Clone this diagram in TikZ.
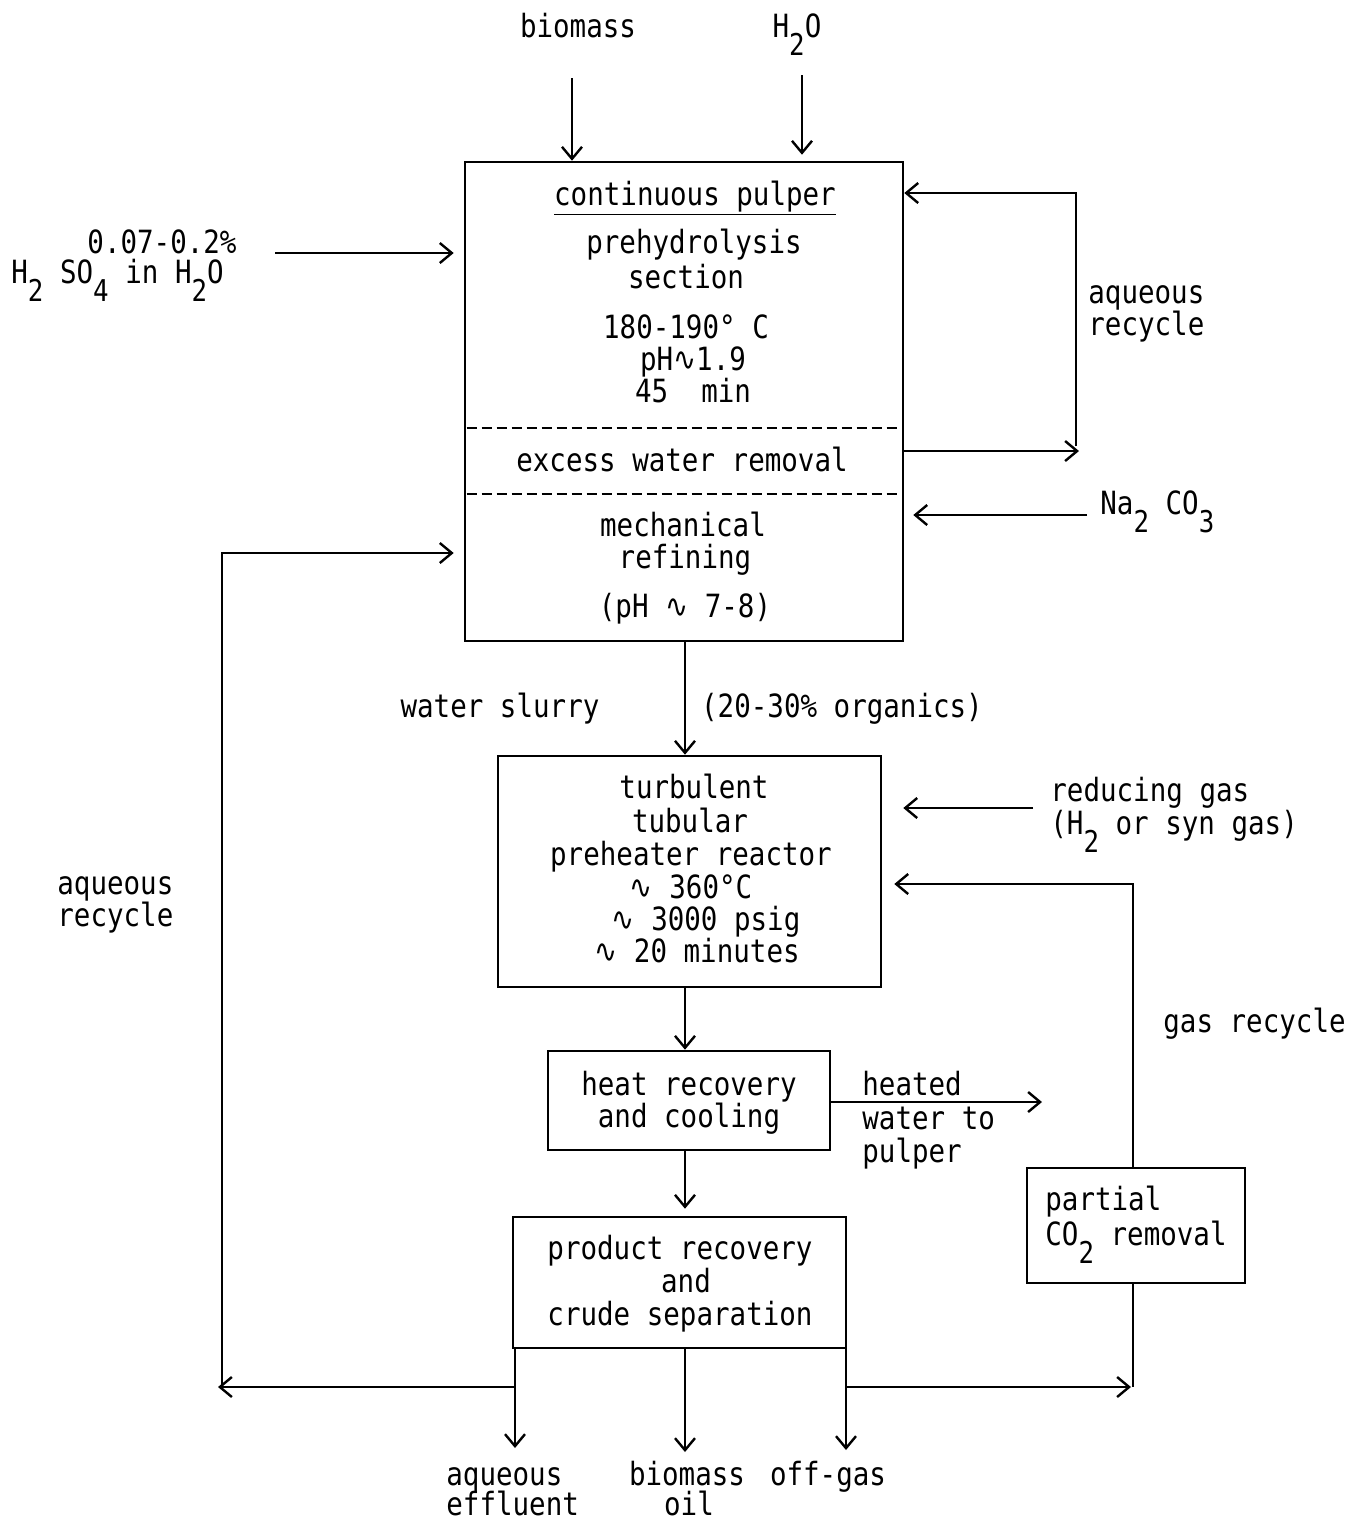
\documentclass[tikz,border=0pt]{standalone}
\usepackage{fontspec}
\setmonofont{DejaVu Sans Mono}[FakeStretch=0.86]
\newfontfamily\symf{DejaVu Sans}[FakeStretch=0.86]
\usetikzlibrary{arrows.meta,fit}
\newcommand\dn[1]{\raisebox{-1.05ex}{\fontsize{15pt}{15pt}\selectfont #1}}
\newcommand\sw{{\symf ∿}}
\begin{document}
\begin{tikzpicture}[x=0.5pt,y=-0.5pt,
  every node/.style={font=\ttfamily\fontsize{16pt}{16.5pt}\selectfont, inner sep=0pt},
  box/.style={draw, line width=1.3pt, inner sep=0pt},
  arr/.style={line width=1.2pt, -{Straight Barb[length=6pt,width=10pt,line width=1.2pt]}},
  ln/.style={line width=1.2pt},
  txt/.style={anchor=base},
  txtl/.style={anchor=base west},
  dsh/.style={line width=1.2pt, dash pattern=on 5pt off 2.5pt}]
\useasboundingbox (0,0) rectangle (1347,1523);

% boxes
\node[box, fit={(465,162) (903,641)}] (pulper) {};
\node[box, fit={(498,756) (881,987)}] (reactor) {};
\node[box, fit={(548,1051) (830,1150)}] (heat) {};
\node[box, fit={(513,1217) (846,1348)}] (prod) {};
\node[box, fit={(1027,1168) (1245,1283)}] (co2) {};

% top inputs
\node[txt] (biomass) at (578,37) {biomass};
\node[txt] (water) at (797,37) {H\dn{2}O};
\coordinate (bmtop) at (572,78);
\coordinate (wtop) at (802,75);
\draw[arr] (bmtop) -- (bmtop |- pulper.north);
\draw[arr] (wtop) -- ([yshift=3pt]wtop |- pulper.north);

% acid input
\node[txt] (acid1) at (162,253) {0.07-0.2\%};
\node[txtl] (acid2) at (11,283) {H\dn{2} SO\dn{4} in H\dn{2}O};
\coordinate (acidst) at (275,253);
\draw[arr] (acidst) -- ([xshift=-5pt]acidst -| pulper.west);

% pulper texts
\node[txt] (p1) at (695,205) {\underline{continuous pulper}};
\node[txt] (p2) at (694,253) {prehydrolysis};
\node[txt] (p3) at (686,288) {section};
\node[txt] (p4) at (686,338) {180-190° C};
\node[txt] (p5) at (693,370) {pH\sw1.9};
\node[txt] (p6) at (693,402) {45\ \ min};
\node[txt] (p7) at (682,471) {excess water removal};
\node[txt] (p8) at (683,536) {mechanical};
\node[txt] (p9) at (685,568) {refining};
\node[txt] (p10) at (685,617) {(pH \sw\ 7-8)};
\draw[dsh] ([xshift=1.5pt]pulper.west |- 0,428) -- ([xshift=-1.5pt]pulper.east |- 0,428);
\draw[dsh] ([xshift=1.5pt]pulper.west |- 0,494) -- ([xshift=-1.5pt]pulper.east |- 0,494);

% aqueous recycle (top right)
\coordinate (ewr) at (903,451);
\coordinate (rtop) at (1076,193);
\draw[arr] (ewr) -- (1079,451);
\draw[arr] (1076,446) -- (rtop) -- (rtop -| pulper.east);
\node[txtl] (aqr1) at (1088,303) {aqueous};
\node[txtl] (aqr2) at (1088,335) {recycle};

% Na2CO3
\node[txtl] (na) at (1100,514) {Na\dn{2} CO\dn{3}};
\coordinate (nast) at (1087,515);
\draw[arr] (nast) -- ([xshift=4.5pt]nast -| pulper.east);

% pulper -> reactor
\coordinate (pout) at (685,641);
\draw[arr] (pout) -- (pout |- reactor.north);
\node[txt] (ws) at (500,717) {water slurry};
\node[txt] (org) at (842,717) {(20-30\% organics)};

% reactor texts
\node[txt] (r1) at (694,798) {turbulent};
\node[txt] (r2) at (690,832) {tubular};
\node[txt] (r3) at (691,865) {preheater reactor};
\node[txt] (r4) at (691,898) {\sw\ 360°C};
\node[txt] (r5) at (706,930) {\sw\ 3000 psig};
\node[txt] (r6) at (697,962) {\sw\ 20 minutes};

% reducing gas
\node[txtl] (rg1) at (1050,801) {reducing gas};
\node[txtl] (rg2) at (1050,834) {(H\dn{2} or syn gas)};
\coordinate (rgst) at (1033,808);
\draw[arr] (rgst) -- ([xshift=10.5pt]rgst -| reactor.east);

% gas recycle
\coordinate (gtop) at (1133,884);
\draw[arr] (1133,1168) -- (gtop) -- ([xshift=6pt]gtop -| reactor.east);
\node[txtl] (gr) at (1163,1032) {gas recycle};

% reactor -> heat
\coordinate (rout) at (685,987);
\draw[arr] (rout) -- (rout |- heat.north);
\node[txt] (h1) at (689,1095) {heat recovery};
\node[txt] (h2) at (689,1127) {and cooling};

% heated water
\coordinate (hw) at (830,1102);
\draw[arr] (hw) -- (1042,1102);
\node[txtl] (hw1) at (862,1095) {heated};
\node[txtl] (hw2) at (862,1129) {water to};
\node[txtl] (hw3) at (862,1162) {pulper};

% heat -> product
\coordinate (hout) at (685,1150);
\draw[arr] (hout) -- ([yshift=3.5pt]hout |- prod.north);
\node[txt] (pr1) at (680,1259) {product recovery};
\node[txt] (pr2) at (686,1292) {and};
\node[txt] (pr3) at (680,1325) {crude separation};

% CO2 removal
\node[txtl] (c1) at (1045,1210) {partial};
\node[txtl] (c2) at (1045,1245) {CO\dn{2} removal};

% bottom lines
\coordinate (lj) at (515,1387);
\coordinate (ltop) at (222,553);
\draw[arr] (lj) -- (218,1387);
\draw[arr] (222,1385) -- (ltop) -- ([xshift=-5pt]ltop -| pulper.west);
\node[txtl] (aql1) at (57,894) {aqueous};
\node[txtl] (aql2) at (57,926) {recycle};

\coordinate (rj) at (846,1387);
\coordinate (rc) at (1133,1387);
\draw[arr] (rj) -- (1131,1387);
\draw[ln] (co2.south -| rc) -- (rc);

% outputs
\coordinate (o1) at (515,1348);
\coordinate (o2) at (685,1348);
\coordinate (o3) at (846,1348);
\draw[arr] (o1) -- (515,1448);
\draw[arr] (o2) -- (685,1452);
\draw[arr] (o3) -- (846,1450);
\node[txtl] (e1) at (446,1485) {aqueous};
\node[txtl] (e1b) at (446,1515) {effluent};
\node[txt] (e2) at (687,1485) {biomass};
\node[txt] (e2b) at (689,1515) {oil};
\node[txt] (e3) at (828,1485) {off-gas};
\end{tikzpicture}
\end{document}
